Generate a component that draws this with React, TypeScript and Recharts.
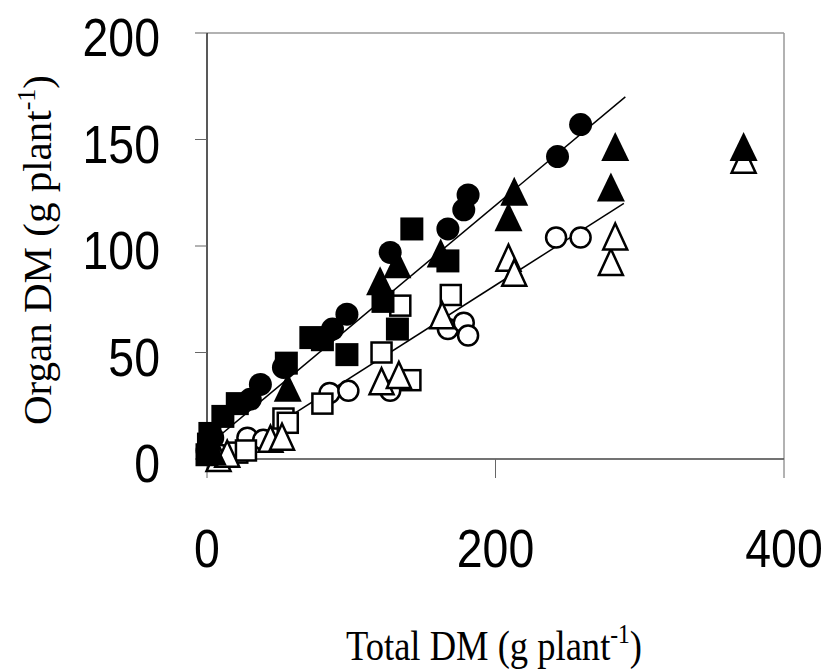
import React from 'react';
import {
  ScatterChart,
  Scatter,
  XAxis,
  YAxis,
  ReferenceLine,
  Label,
} from 'recharts';

type Pt = { x: number; y: number };

// filled markers
const filledCircles: Pt[] = [
  { x: 0, y: 4 }, { x: 4, y: 10 }, { x: 30, y: 28 }, { x: 37, y: 35 }, { x: 53, y: 43 },
  { x: 87, y: 61 }, { x: 97, y: 68 }, { x: 127, y: 97 }, { x: 167, y: 108 },
  { x: 178, y: 117 }, { x: 181, y: 124 }, { x: 243, y: 142 }, { x: 259, y: 157 },
];
const filledSquares: Pt[] = [
  { x: 0, y: 2 }, { x: 1, y: 7 }, { x: 2, y: 12 }, { x: 11, y: 20 }, { x: 21, y: 26 },
  { x: 55, y: 45 }, { x: 72, y: 57 }, { x: 80, y: 56 }, { x: 97, y: 49 },
  { x: 122, y: 74 }, { x: 132, y: 61 }, { x: 142, y: 108 }, { x: 167, y: 93 },
];
const filledTriangles: Pt[] = [
  { x: 4, y: 3 }, { x: 56, y: 33 }, { x: 120, y: 83 }, { x: 132, y: 91 }, { x: 162, y: 96 },
  { x: 209, y: 113 }, { x: 213, y: 125 }, { x: 280, y: 127 }, { x: 283, y: 146 },
  { x: 372, y: 146 },
];

// open markers
const openCircles: Pt[] = [
  { x: 9, y: 2 }, { x: 28, y: 10 }, { x: 39, y: 9 }, { x: 85, y: 31 }, { x: 98, y: 32 },
  { x: 127, y: 32 }, { x: 167, y: 61 }, { x: 178, y: 64 }, { x: 181, y: 58 },
  { x: 242, y: 104 }, { x: 259, y: 104 },
];
const openSquares: Pt[] = [
  { x: 21, y: 3 }, { x: 27, y: 4 }, { x: 53, y: 19 }, { x: 56, y: 17 }, { x: 80, y: 26 },
  { x: 121, y: 50 }, { x: 134, y: 72 }, { x: 141, y: 37 }, { x: 169, y: 77 },
];
const openTriangles: Pt[] = [
  { x: 8, y: 0 }, { x: 14, y: 2 }, { x: 44, y: 9 }, { x: 52, y: 10 }, { x: 121, y: 36 },
  { x: 133, y: 39 }, { x: 163, y: 67 }, { x: 209, y: 94 }, { x: 213, y: 87 },
  { x: 280, y: 92 }, { x: 283, y: 104 }, { x: 372, y: 140 },
];

// fitted lines
const fitUpper: Pt[] = [{ x: 0, y: 6 }, { x: 290, y: 170 }];
const fitLower: Pt[] = [{ x: 11, y: 0 }, { x: 289, y: 120 }];

const xTicks = [0, 200, 400];
const yTicks = [0, 50, 100, 150, 200];

const circle = (filled: boolean) => (p: any) =>
  filled ? (
    <circle cx={p.cx} cy={p.cy} r={11.5} fill="#000" />
  ) : (
    <circle cx={p.cx} cy={p.cy} r={10} fill="#fff" stroke="#000" strokeWidth={2.5} />
  );

const square = (filled: boolean) => (p: any) =>
  filled ? (
    <rect x={p.cx - 11.5} y={p.cy - 11.5} width={23} height={23} fill="#000" />
  ) : (
    <rect x={p.cx - 10} y={p.cy - 10} width={20} height={20} fill="#fff" stroke="#000" strokeWidth={2.5} />
  );

const triangle = (filled: boolean) => (p: any) => {
  const { cx, cy } = p;
  const pts = filled
    ? `${cx},${cy - 16} ${cx + 14},${cy + 13} ${cx - 14},${cy + 13}`
    : `${cx},${cy - 14} ${cx + 12},${cy + 12} ${cx - 12},${cy + 12}`;
  return (
    <polygon
      points={pts}
      fill={filled ? '#000' : '#fff'}
      stroke="#000"
      strokeWidth={filled ? 0 : 2.5}
      strokeLinejoin="miter"
    />
  );
};

const noDot = () => <g />;

const sansFont = '"Liberation Sans", Arial, sans-serif';
const titleFont = '"Liberation Serif", "Times New Roman", serif';

// the original text is a little narrow, so squeeze it horizontally
const YTick = (p: any) => (
  <g transform={`translate(${p.x},${p.y + 4})`}>
    <text transform="scale(0.86,1)" textAnchor="end" dy="0.355em" fontFamily={sansFont} fontSize={54} fill="#000">
      {p.payload.value}
    </text>
  </g>
);

const XTick = (p: any) => (
  <g transform={`translate(${p.x},${p.y})`}>
    <text transform="scale(0.86,1)" textAnchor="middle" dy="0.71em" fontFamily={sansFont} fontSize={54} fill="#000">
      {p.payload.value}
    </text>
  </g>
);

const XTitle = () => (
  <g transform="translate(494,660)">
    <text transform="scale(0.87,1)" textAnchor="middle" fontFamily={titleFont} fontSize={42} fill="#000">
      Total DM (g plant
      <tspan dy={-17} fontSize={27}>-1</tspan>
      <tspan dy={17}>)</tspan>
    </text>
  </g>
);

const YTitle = () => (
  <text
    x={51}
    y={250}
    transform="rotate(-90, 51, 250)"
    textAnchor="middle"
    fontFamily={titleFont}
    fontSize={41}
    fill="#000"
  >
    Organ DM (g plant
    <tspan dy={-16} fontSize={26}>-1</tspan>
    <tspan dy={16}>)</tspan>
  </text>
);

export default function App() {
  return (
    <div style={{ position: 'absolute', left: 0, top: 0, background: '#fff' }}>
      <ScatterChart width={829} height={669} margin={{ top: 33, right: 45, left: 0, bottom: 0 }}>
        <XAxis
          type="number"
          dataKey="x"
          domain={[0, 400]}
          ticks={xTicks}
          height={210}
          tickSize={19}
          tickMargin={51}
          tick={<XTick />}
          axisLine={{ stroke: '#444', strokeWidth: 1.5 }}
          tickLine={{ stroke: '#666' }}
        >
          <Label content={<XTitle />} />
        </XAxis>
        <YAxis
          type="number"
          dataKey="y"
          domain={[0, 200]}
          ticks={yTicks}
          width={207}
          tickSize={12}
          tickMargin={35}
          tick={<YTick />}
          axisLine={{ stroke: '#222', strokeWidth: 1.5 }}
          tickLine={{ stroke: '#666' }}
        >
          <Label content={<YTitle />} />
        </YAxis>
        <ReferenceLine y={200} stroke="#999" strokeWidth={1.5} ifOverflow="visible" />
        <ReferenceLine x={400} stroke="#999" strokeWidth={1.5} ifOverflow="visible" />

        <Scatter data={fitUpper} line={{ stroke: '#000', strokeWidth: 1.5 }} shape={noDot} isAnimationActive={false} />
        <Scatter data={fitLower} line={{ stroke: '#000', strokeWidth: 1.5 }} shape={noDot} isAnimationActive={false} />

        <Scatter data={openCircles} shape={circle(false)} isAnimationActive={false} />
        <Scatter data={openSquares} shape={square(false)} isAnimationActive={false} />
        <Scatter data={openTriangles} shape={triangle(false)} isAnimationActive={false} />
        <Scatter data={filledCircles} shape={circle(true)} isAnimationActive={false} />
        <Scatter data={filledSquares} shape={square(true)} isAnimationActive={false} />
        <Scatter data={filledTriangles} shape={triangle(true)} isAnimationActive={false} />
      </ScatterChart>
    </div>
  );
}
